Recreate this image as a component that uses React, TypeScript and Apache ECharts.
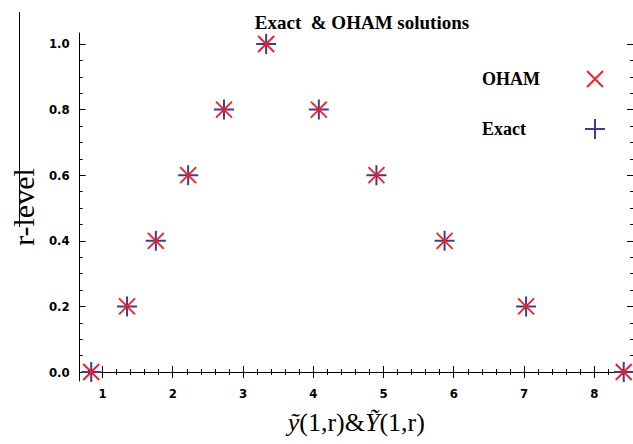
import React, { useEffect, useRef } from "react";
import * as echarts from "echarts";

// data
const xValues = [0.84, 1.35, 1.76, 2.22, 2.73, 3.33, 4.08, 4.9, 5.87, 7.03, 8.42];
const rLevels = [0.0, 0.2, 0.4, 0.6, 0.8, 1.0, 0.8, 0.6, 0.4, 0.2, 0.0];
const exactX = xValues;
const exactY = rLevels;
const ohamX = xValues;
const ohamY = rLevels;

const xTickLabels = [1, 2, 3, 4, 5, 6, 7, 8];
const yTickLabels = [0.0, 0.2, 0.4, 0.6, 0.8, 1.0];

const X_MIN = 0.675;
const X_MAX = 8.552;
const Y_MIN = -0.0274;
const Y_MAX = 1.0335;

function minorValues(start: number, end: number, step: number, majors: number[]) {
  const out: number[] = [];
  const n = Math.round((end - start) / step);
  for (let i = 0; i <= n; i++) {
    const v = Math.round((start + i * step) * 1000) / 1000;
    if (!majors.some((m) => Math.abs(m - v) < 1e-6)) out.push(v);
  }
  return out;
}
const xMinor = minorValues(0.8, 8.4, 0.2, xTickLabels);
const yMinor = minorValues(0.0, 1.0, 0.05, yTickLabels);

const PLUS = "path://M9,0H11V20H9Z M0,9H20V11H0Z";
const CROSS =
  "path://M0,0h0.05v0.05h-0.05Z M19.95,19.95h0.05v0.05h-0.05Z " +
  "M2.64,1.36L18.64,17.36L17.36,18.64L1.36,2.64Z " +
  "M18.64,2.64L2.64,18.64L1.36,17.36L17.36,1.36Z";

const labelFont = "'Liberation Sans Narrow', 'DejaVu Sans Condensed', 'Arial Narrow', sans-serif";
const serif = "'Liberation Serif', 'DejaVu Serif', serif";

export default function App() {
  const ref = useRef<HTMLDivElement>(null);
  useEffect(() => {
    if (!ref.current) return;
    const chart = echarts.init(ref.current, null, { renderer: "svg" });
    const lineStyle = { color: "#000", width: 1 };
    const xBase = {
      type: "value" as const,
      min: X_MIN,
      max: X_MAX,
      splitLine: { show: false },
    };
    const yBase = {
      type: "value" as const,
      min: Y_MIN,
      max: Y_MAX,
      splitLine: { show: false },
    };
    const option: any = {
      animation: false,
      backgroundColor: "#fff",
      title: {
        text: "Exact  & OHAM solutions",
        left: 357,
        top: 8,
        textAlign: "center",
        textStyle: { fontFamily: serif, fontWeight: "bold", fontSize: 19, color: "#000" },
      },
      grid: { left: 79, right: -3, top: 33, bottom: 63, containLabel: false },
      legend: {
        orient: "vertical",
        left: 477,
        top: 64,
        align: "right",
        itemWidth: 20,
        itemHeight: 20,
        itemGap: 30,
        data: ["OHAM", "Exact"],
        formatter: "{a|{name}}",
        textStyle: {
          rich: {
            a: {
              width: 98,
              align: "left",
              fontFamily: serif,
              fontWeight: "bold",
              fontSize: 18,
              color: "#000",
            },
          },
        },
      },
      xAxis: [
        {
          ...xBase,
          position: "bottom",
          name: "{i|ỹ}(1,r)&{i|Ỹ}(1,r)",
          nameLocation: "middle",
          nameGap: 28,
          nameTextStyle: {
            fontFamily: serif,
            fontSize: 26,
            color: "#000",
            rich: { i: { fontStyle: "italic", fontFamily: serif, fontSize: 26, color: "#000" } },
          },
          axisLine: { show: true, lineStyle },
          axisTick: { show: true, inside: true, length: 6, customValues: xTickLabels, lineStyle },
          axisLabel: {
            show: true,
            customValues: xTickLabels,
            margin: 6,
            fontFamily: labelFont,
            fontWeight: "bold",
            fontSize: 13,
            color: "#000",
          },
        },
        {
          ...xBase,
          position: "bottom",
          axisLine: { show: false },
          axisTick: { show: true, inside: true, length: 3, customValues: xMinor, lineStyle },
          axisLabel: { show: false },
        },
        {
          ...xBase,
          position: "top",
          axisLine: { show: true, lineStyle },
          axisTick: { show: true, inside: true, length: 6, customValues: xTickLabels, lineStyle },
          axisLabel: { show: false },
        },
        {
          ...xBase,
          position: "top",
          axisLine: { show: false },
          axisTick: { show: true, inside: true, length: 3, customValues: xMinor, lineStyle },
          axisLabel: { show: false },
        },
      ],
      yAxis: [
        {
          ...yBase,
          position: "left",
          name: "r-level",
          nameLocation: "middle",
          nameGap: 35,
          nameTextStyle: { fontFamily: serif, fontSize: 30, color: "#000" },
          axisLine: { show: true, lineStyle },
          axisTick: { show: true, inside: true, length: 6, customValues: yTickLabels, lineStyle },
          axisLabel: {
            show: true,
            customValues: yTickLabels,
            margin: 10,
            formatter: (v: number) => v.toFixed(1),
            fontFamily: labelFont,
            fontWeight: "bold",
            fontSize: 13,
            color: "#000",
          },
        },
        {
          ...yBase,
          position: "left",
          axisLine: { show: false },
          axisTick: { show: true, inside: true, length: 3, customValues: yMinor, lineStyle },
          axisLabel: { show: false },
        },
        {
          ...yBase,
          position: "right",
          axisLine: { show: true, lineStyle },
          axisTick: { show: true, inside: true, length: 6, customValues: yTickLabels, lineStyle },
          axisLabel: { show: false },
        },
        {
          ...yBase,
          position: "right",
          axisLine: { show: false },
          axisTick: { show: true, inside: true, length: 3, customValues: yMinor, lineStyle },
          axisLabel: { show: false },
        },
      ],
      graphic: [
        {
          type: "line",
          shape: { x1: 19.5, y1: 12, x2: 19.5, y2: 227 },
          style: { stroke: "#000", lineWidth: 1 },
        },
      ],
      series: [
        {
          name: "Exact",
          type: "scatter",
          xAxisIndex: 0,
          yAxisIndex: 0,
          symbol: PLUS,
          symbolSize: 20,
          itemStyle: { color: "#3d3d98", opacity: 1 },
          z: 2,
          data: exactX.map((x, i) => [x, exactY[i]]),
        },
        {
          name: "OHAM",
          type: "scatter",
          xAxisIndex: 0,
          yAxisIndex: 0,
          symbol: CROSS,
          symbolSize: 20,
          itemStyle: { color: "#ff1a1a", opacity: 1 },
          z: 3,
          data: ohamX.map((x, i) => [x, ohamY[i]]),
        },
      ],
    };
    chart.setOption(option);
    return () => chart.dispose();
  }, []);
  return (
    <div
      ref={ref}
      style={{ position: "fixed", left: 0, top: 0, width: 633, height: 444, background: "#fff" }}
    />
  );
}
